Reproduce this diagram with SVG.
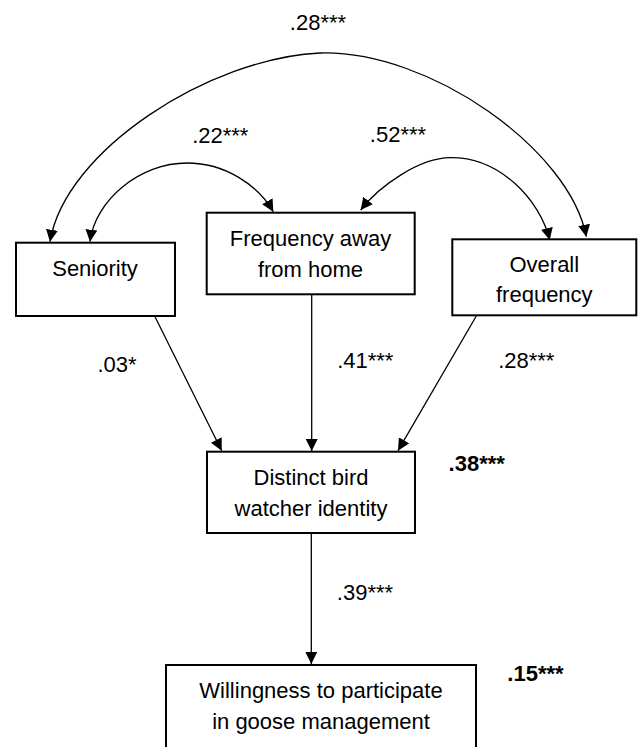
<svg xmlns="http://www.w3.org/2000/svg" width="638" height="747" viewBox="0 0 638 747">
  <defs>
    <marker id="ah" markerUnits="userSpaceOnUse" markerWidth="13" markerHeight="13" refX="12" refY="6" orient="auto-start-reverse">
      <path d="M0,0 L12,6 L0,12 z" fill="#000"/>
    </marker>
    <style>
      .box { fill: #fff; stroke: #000; stroke-width: 2; }
      .lbl { font-family: "Liberation Sans", Arial, sans-serif; font-size: 22px; fill: #000; text-anchor: middle; }
      .num { font-family: "Liberation Sans", Arial, sans-serif; font-size: 22px; fill: #000; text-anchor: middle; }
      .bold { font-weight: bold; }
      .edge { fill: none; stroke: #000; stroke-width: 1.3; marker-end: url(#ah); }
      .both { marker-start: url(#ah); }
    </style>
  </defs>
  <rect width="638" height="747" fill="#fff"/>

  <g id="connectors">
    <path class="edge both" d="M50,241.7 C65,150 210,58 320,53 C430,50 570,150 586.3,236.7"/>
    <path class="edge both" d="M90,241.7 C95,200 140,163 187,163 C225,163 258,185 273.3,211.7"/>
    <path class="edge both" d="M360.7,210 C380,185 420,158 450,157.7 C500,157 540,200 549.7,240"/>
    <line class="edge" x1="155" y1="316.7" x2="221.7" y2="450.7"/>
    <line class="edge" x1="311.7" y1="294.3" x2="311.7" y2="451"/>
    <line class="edge" x1="476.3" y1="316" x2="398" y2="450.7"/>
    <line class="edge" x1="311.3" y1="533" x2="311.3" y2="664"/>
    <text class="num" x="318" y="30">.28***</text>
    <text class="num" x="220.3" y="143.3">.22***</text>
    <text class="num" x="398" y="141.7">.52***</text>
    <text class="num" x="117" y="372.3">.03*</text>
    <text class="num" x="365.3" y="367.7">.41***</text>
    <text class="num" x="526.3" y="367.7">.28***</text>
    <text class="num" x="365" y="600">.39***</text>
  </g>

  <g id="seniority">
    <rect class="box" x="16" y="242.7" width="159" height="73.3"/>
    <text class="lbl" x="95" y="276">Seniority</text>
  </g>

  <g id="frequency-away">
    <rect class="box" x="206.7" y="212.7" width="208" height="81.6"/>
    <text class="lbl" x="310.5" y="246">Frequency away</text>
    <text class="lbl" x="310.5" y="277.3">from home</text>
  </g>

  <g id="overall-frequency">
    <rect class="box" x="452.3" y="239.3" width="184" height="76"/>
    <text class="lbl" x="544.3" y="271.7">Overall</text>
    <text class="lbl" x="544.3" y="301.7">frequency</text>
  </g>

  <g id="identity">
    <rect class="box" x="207" y="451.7" width="208" height="81.3"/>
    <text class="lbl" x="311" y="485">Distinct bird</text>
    <text class="lbl" x="311" y="516">watcher identity</text>
    <text class="num bold" x="476.7" y="471">.38***</text>
  </g>

  <g id="willingness">
    <rect class="box" x="166" y="665" width="310" height="100"/>
    <text class="lbl" x="321" y="697.7">Willingness to participate</text>
    <text class="lbl" x="321" y="729">in goose management</text>
    <text class="num bold" x="535.5" y="680.7">.15***</text>
  </g>
</svg>
